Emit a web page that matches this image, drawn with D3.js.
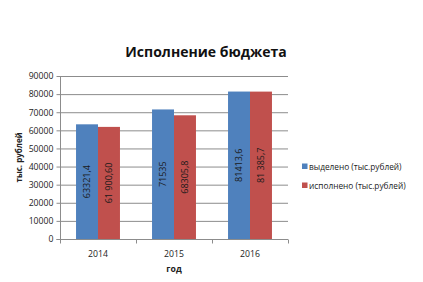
<!DOCTYPE html>
<html><head><meta charset="utf-8">
<script src="https://cdn.jsdelivr.net/npm/d3@7"></script>
<style>body{margin:0;background:#fff}svg{display:block}text{font-family:"Open Sans","Noto Sans",sans-serif}</style>
</head><body><svg id="c" width="423" height="282"></svg>
<script>
const categories = ["2014", "2015", "2016"];
const seriesNames = ["выделено (тыс.рублей)", "исполнено (тыс.рублей)"];
const allocated = [63321.4, 71535, 81413.6];
const executed = [61900.6, 68305.8, 81385.7];
const allocatedLabels = ["63321,4", "71535", "81413,6"];
const executedLabels = ["61 900,60", "68305,8", "81 385,7"];
const yTicks = [0, 10000, 20000, 30000, 40000, 50000, 60000, 70000, 80000, 90000];
const colors = ["#4F81BD", "#C0504D"];

const svg = d3.select("#c");
const L = 60, R = 288, T = 76, B = 239;
const x = d3.scaleBand().domain(categories).range([L, R]).paddingInner(0).paddingOuter(0);
const y = d3.scaleLinear().domain([0, 90000]).range([B, T]);
const inner = d3.scaleBand().domain([0, 1]).range([0, x.bandwidth()]).paddingOuter(0.73).paddingInner(0);

// gridlines
svg.append("g").selectAll("line").data(yTicks.slice(1)).join("line")
  .attr("x1", L).attr("x2", R).attr("y1", d => y(d) + 0.5).attr("y2", d => y(d) + 0.5)
  .attr("stroke", "#8c8c8c").attr("stroke-width", 1);

const series = [
  {vals: allocated, labels: allocatedLabels},
  {vals: executed, labels: executedLabels}
];
series.forEach((s, si) => {
  const g = svg.append("g");
  g.selectAll("rect").data(categories).join("rect")
    .attr("x", c => x(c) + inner(si))
    .attr("y", (c, i) => y(s.vals[i]))
    .attr("width", inner.bandwidth())
    .attr("height", (c, i) => B - y(s.vals[i]))
    .attr("fill", colors[si]);
  g.selectAll("text").data(categories).join("text")
    .attr("transform", (c, i) => `translate(${x(c) + inner(si) + inner.bandwidth() / 2 + 3},${(y(s.vals[i]) + B) / 2}) rotate(-90)`)
    .attr("text-anchor", "middle")
    .attr("font-size", 9)
    .attr("fill", "#1a1a1a")
    .text((c, i) => s.labels[i]);
});

// y axis
const ya = svg.append("g").attr("transform", `translate(${L + 0.5},0)`)
  .call(d3.axisLeft(y).tickValues(yTicks).tickSize(4).tickPadding(3).tickFormat(d3.format("d")));
ya.select(".domain").attr("stroke", "#8c8c8c").attr("d", `M-4,${B}.5H0V${T}`);
ya.selectAll(".tick line").attr("stroke", "#8c8c8c");
ya.selectAll(".tick text").attr("font-size", 8.7).attr("fill", "#222").style("font-family", "'Open Sans',sans-serif");

// x axis
const xa = svg.append("g").attr("transform", `translate(0,${B + 0.5})`);
xa.append("line").attr("x1", L).attr("x2", R).attr("stroke", "#8c8c8c");
const bounds = [L, ...categories.map(c => x(c) + x.bandwidth())];
xa.selectAll("line.t").data(bounds).join("line").attr("class", "t")
  .attr("x1", d => d + 0.5).attr("x2", d => d + 0.5).attr("y1", 0).attr("y2", 4).attr("stroke", "#8c8c8c");
xa.selectAll("text").data(categories).join("text")
  .attr("x", c => x(c) + x.bandwidth() / 2).attr("y", 17)
  .attr("text-anchor", "middle").attr("font-size", 8.7).attr("fill", "#222").text(c => c);

// title
svg.append("text").attr("x", 206).attr("y", 57).attr("text-anchor", "middle")
  .attr("font-size", 14).attr("font-weight", "bold").attr("fill", "#111").text("Исполнение бюджета");

// axis titles
svg.append("text").attr("transform", `translate(22,${(T + B) / 2}) rotate(-90)`).attr("text-anchor", "middle")
  .attr("font-size", 8).attr("font-weight", "bold").attr("fill", "#222").text("тыс. рублей");
svg.append("text").attr("x", 174).attr("y", 272).attr("text-anchor", "middle")
  .attr("font-size", 8.7).attr("font-weight", "bold").attr("fill", "#222").text("год");

// legend
const lg = svg.append("g");
seriesNames.forEach((n, i) => {
  const ly = 167 + i * 19;
  lg.append("rect").attr("x", 302).attr("y", ly - 3.5).attr("width", 5.5).attr("height", 5.5).attr("fill", colors[i]);
  lg.append("text").attr("x", 309).attr("y", ly + 2.5).attr("font-size", 8.3).attr("fill", "#222").text(n);
});
</script></body></html>
